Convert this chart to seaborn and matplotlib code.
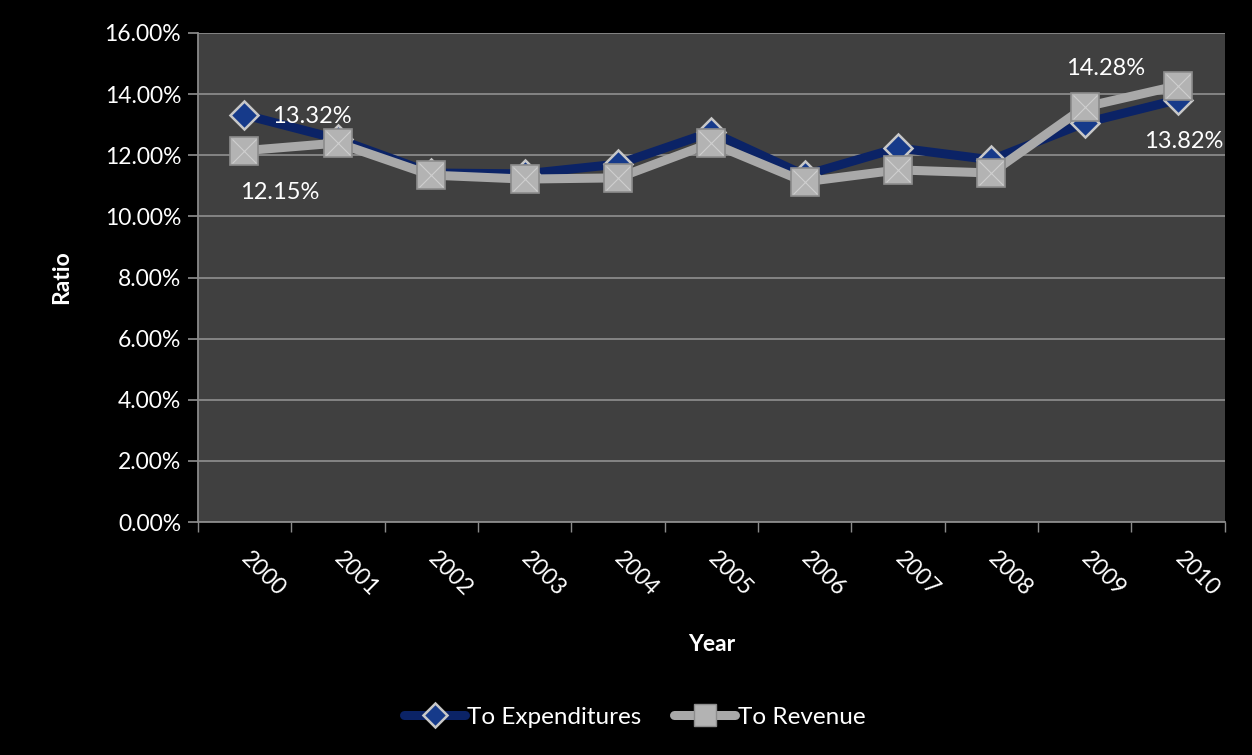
import matplotlib
matplotlib.use("Agg")
import matplotlib.pyplot as plt
import matplotlib.ticker as mticker
from matplotlib.lines import Line2D
import pandas as pd
import seaborn as sns

years = [2000, 2001, 2002, 2003, 2004, 2005, 2006, 2007, 2008, 2009, 2010]
to_expenditures = [13.32, 12.53, 11.42, 11.39, 11.71, 12.76, 11.35, 12.24, 11.85, 13.06, 13.82]
to_revenue = [12.15, 12.40, 11.35, 11.22, 11.26, 12.40, 11.13, 11.52, 11.42, 13.58, 14.28]
y_ticks = [0, 2, 4, 6, 8, 10, 12, 14, 16]

sns.set_theme(style="dark")
plt.rcParams["font.family"] = ["Lato", "DejaVu Sans"]

NAVY = "#0b2366"
SILVER = "#a9a9a9"
PANEL = "#404040"
GRID = "#8a8a8a"
FS = 16.5

df = pd.DataFrame({"Year": years, "To Expenditures": to_expenditures, "To Revenue": to_revenue})

fig = plt.figure(figsize=(12.52, 7.55), dpi=100, facecolor="black")
ax = fig.add_axes([0.158, 0.3086, 0.8203, 0.6477])
ax.set_facecolor(PANEL)

sns.lineplot(data=df, x="Year", y="To Expenditures", ax=ax, color=NAVY, linewidth=6.5,
             marker="D", markersize=14, markerfacecolor="#163a8a",
             markeredgecolor="#c8c8c8", markeredgewidth=1.8, zorder=3)
sns.lineplot(data=df, x="Year", y="To Revenue", ax=ax, color=SILVER, linewidth=6.5,
             marker="s", markersize=20, markerfacecolor="#b3b3b3",
             markeredgecolor="#8c8c8c", markeredgewidth=1.2, zorder=4)
# pyramid highlight on the square markers
ax.plot(df["Year"], df["To Revenue"], linestyle="none", marker="x", markersize=17,
        markeredgecolor="#cfcfcf", markeredgewidth=0.8, zorder=5)

ax.set_xlim(1999.5, 2010.5)
ax.set_ylim(0, 16)
ax.set_yticks(y_ticks)
ax.yaxis.set_major_formatter(mticker.FuncFormatter(lambda v, p: f"{v:.2f}%"))
ax.set_xticks(years)
ax.set_xticks([y - 0.5 for y in years] + [years[-1] + 0.5], minor=True)
ax.grid(axis="y", color=GRID, linewidth=1.3)
ax.grid(axis="x", visible=False)

ax.tick_params(axis="x", which="major", length=0, colors="white", labelsize=FS, pad=24)
ax.tick_params(axis="x", which="minor", length=7, color=GRID, direction="out", bottom=True)
ax.tick_params(axis="y", length=7, color=GRID, direction="out", left=True, colors="white",
               labelsize=FS, pad=5)
for lbl in ax.get_xticklabels():
    lbl.set_rotation(-45)
    lbl.set_ha("left")
    lbl.set_va("center")
    lbl.set_rotation_mode("anchor")

for side in ("top", "right"):
    ax.spines[side].set_visible(False)
for side in ("left", "bottom"):
    ax.spines[side].set_color(GRID)
    ax.spines[side].set_linewidth(1.3)

ax.set_xlabel("Year", color="white", fontsize=FS, fontweight="bold")
ax.set_ylabel("Ratio", color="white", fontsize=FS, fontweight="bold")
ax.xaxis.set_label_coords(0.5, -0.2515)
ax.xaxis.label.set_va("center")
ax.yaxis.set_label_coords(-0.1324, 0.5)
ax.yaxis.label.set_va("center")

lab_kw = dict(color="white", fontsize=FS + 0.5, textcoords="offset points")
ax.annotate(f"{to_expenditures[0]:.2f}%", (years[0], to_expenditures[0]), xytext=(20, -1.5),
            ha="left", va="center", **lab_kw)
ax.annotate(f"{to_revenue[0]:.2f}%", (years[0], to_revenue[0]), xytext=(-3, -30),
            ha="left", va="center", **lab_kw)
ax.annotate(f"{to_revenue[-1]:.2f}%", (years[-1], to_revenue[-1]), xytext=(-52, 12.5),
            ha="center", va="center", **lab_kw)
ax.annotate(f"{to_expenditures[-1]:.2f}%", (years[-1], to_expenditures[-1]), xytext=(4.3, -30),
            ha="center", va="center", **lab_kw)

handles = [
    Line2D([], [], color=NAVY, linewidth=6.5, marker="D", markersize=12,
           markerfacecolor="#163a8a", markeredgecolor="#c8c8c8", markeredgewidth=1.8),
    Line2D([], [], color=SILVER, linewidth=6.5, marker="s", markersize=16,
           markerfacecolor="#b3b3b3", markeredgecolor="#8c8c8c"),
]
fig.legend(handles, ["To Expenditures", "To Revenue"], loc="center", bbox_to_anchor=(0.507, 0.05),
           ncol=2, frameon=False, fontsize=17.5, labelcolor="white", handlelength=2.5,
           handletextpad=0.1, columnspacing=1.35)

fig.savefig("out.png", dpi=100, facecolor="black")
